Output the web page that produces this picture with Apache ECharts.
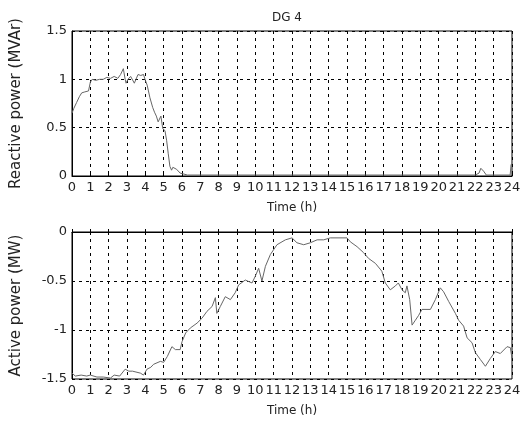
<!DOCTYPE html>
<html>
<head>
<meta charset="utf-8">
<script src="https://cdn.jsdelivr.net/npm/echarts@6/dist/echarts.min.js"></script>
<style>html,body{margin:0;padding:0;background:#fff;}#c{width:524px;height:425px;}</style>
</head>
<body>
<div id="c"></div>
<script>
var hourTicks = [0,1,2,3,4,5,6,7,8,9,10,11,12,13,14,15,16,17,18,19,20,21,22,23,24];
var reactivePower = [
 [0,0.65],[0.1,0.70],[0.25,0.76],[0.4,0.82],[0.53,0.86],[0.7,0.87],[0.9,0.88],[1.0,0.97],[1.1,1.00],
 [1.3,0.99],[1.5,1.00],[1.7,1.00],[1.9,1.02],[2.1,1.01],[2.3,1.03],[2.5,1.01],[2.65,1.05],[2.8,1.11],
 [2.9,1.00],[2.95,0.96],[3.05,1.00],[3.2,1.03],[3.4,0.96],[3.6,1.05],[3.75,1.04],[3.9,1.05],[4.0,0.99],
 [4.1,0.94],[4.25,0.81],[4.4,0.71],[4.5,0.66],[4.6,0.62],[4.7,0.56],[4.75,0.54],[4.85,0.62],[4.95,0.49],
 [5.02,0.50],[5.07,0.47],[5.16,0.37],[5.25,0.23],[5.34,0.10],[5.43,0.06],[5.5,0.09],[5.6,0.11],[5.7,0.07],
 [5.8,0.05],[5.9,0.03],[6.0,0.02],[6.3,0.01],[8,0.01],[10,0.01],[12,0.01],[14,0.01],[16,0.01],[18,0.01],
 [20,0.01],[22,0.01],[22.2,0.03],[22.3,0.08],[22.45,0.05],[22.6,0.01],[23.9,0.01],[23.95,0.12],[24,0.12]
];
var activePower = [
 [0,-1.44],[0.18,-1.47],[0.5,-1.46],[0.8,-1.47],[1.0,-1.46],[1.36,-1.48],[1.7,-1.48],[2.1,-1.49],[2.3,-1.46],
 [2.6,-1.47],[2.9,-1.40],[3.1,-1.42],[3.3,-1.42],[3.73,-1.44],[3.9,-1.46],[4.09,-1.40],[4.3,-1.38],[4.45,-1.35],
 [4.82,-1.32],[5.0,-1.33],[5.2,-1.27],[5.45,-1.17],[5.64,-1.20],[5.9,-1.20],[6.0,-1.12],[6.2,-1.03],[6.45,-0.98],
 [6.82,-0.93],[7.09,-0.88],[7.36,-0.81],[7.64,-0.76],[7.82,-0.67],[7.9,-0.83],[8.09,-0.76],[8.36,-0.66],[8.64,-0.69],
 [8.9,-0.62],[9.09,-0.54],[9.45,-0.49],[9.82,-0.52],[10.0,-0.45],[10.18,-0.37],[10.36,-0.50],[10.55,-0.35],[10.82,-0.23],
 [11.18,-0.13],[11.64,-0.08],[12.0,-0.06],[12.27,-0.11],[12.64,-0.13],[13.0,-0.11],[13.37,-0.08],[13.73,-0.08],[14.09,-0.06],
 [15.0,-0.06],[15.18,-0.10],[15.55,-0.15],[15.9,-0.21],[16.18,-0.27],[16.55,-0.32],[16.9,-0.40],[17.09,-0.52],[17.36,-0.59],
 [17.64,-0.55],[17.8,-0.52],[18.0,-0.59],[18.18,-0.62],[18.27,-0.55],[18.42,-0.69],[18.55,-0.95],[18.73,-0.90],[18.91,-0.85],
 [19.09,-0.79],[19.55,-0.79],[19.82,-0.69],[20.09,-0.57],[20.27,-0.61],[20.55,-0.71],[20.91,-0.83],[21.09,-0.90],[21.36,-0.96],
 [21.55,-1.08],[21.82,-1.13],[22.0,-1.23],[22.27,-1.30],[22.55,-1.37],[22.82,-1.29],[23.09,-1.22],[23.36,-1.24],[23.73,-1.17],
 [23.91,-1.18],[24,-1.29]
];
var topYTicks = [0,0.5,1,1.5];
var botYTicks = [-1.5,-1,-0.5,0];

var font = 'DejaVu Sans, sans-serif';
var tickTxt = {color:'#222', fontFamily:font, fontSize:13};
var nameTxt = {color:'#222', fontFamily:font, fontSize:15};
var timeTxt = {color:'#222', fontFamily:font, fontSize:12};
function xAx(gi){
  return {type:'value', gridIndex:gi, min:0, max:24, interval:1,
    name:'Time (h)', nameLocation:'middle', nameGap:26, nameTextStyle:timeTxt,
    axisLine:{show:true, lineStyle:{color:'#000'}},
    axisTick:{show:true, inside:true, length:3, lineStyle:{color:'#000'}},
    axisLabel:Object.assign({margin:5, formatter:function(v){return hourTicks.indexOf(v)>=0?String(v):'';}}, tickTxt),
    splitLine:{show:true, lineStyle:{color:'#000', type:[3,4], width:1}}};
}
function yAx(gi,mn,mx,nm,ticks){
  return {type:'value', gridIndex:gi, min:mn, max:mx, interval:0.5,
    name:nm, nameLocation:'middle', nameGap:48, nameTextStyle:nameTxt,
    axisLine:{show:true, lineStyle:{color:'#000'}},
    axisTick:{show:true, inside:true, length:3, lineStyle:{color:'#000'}},
    axisLabel:Object.assign({margin:5, formatter:function(v){return ticks.indexOf(v)>=0?String(v):'';}}, tickTxt),
    splitLine:{show:true, lineStyle:{color:'#000', type:[3,4], width:1}}};
}
var chart = echarts.init(document.getElementById('c'), null, {renderer:'canvas'});
chart.setOption({
  animation:false,
  backgroundColor:'#fff',
  title:{text:'DG 4', left:282, top:7, textAlign:'center', textStyle:{color:'#222', fontFamily:font, fontSize:12, fontWeight:'normal'}},
  grid:[
    {left:72, top:31, width:440, height:145, show:true, borderColor:'#000', borderWidth:1, containLabel:false},
    {left:72, top:232, width:440, height:147, show:true, borderColor:'#000', borderWidth:1, containLabel:false}
  ],
  xAxis:[xAx(0), xAx(1)],
  yAxis:[yAx(0,0,1.5,'Reactive power (MVAr)',topYTicks), yAx(1,-1.5,0,'Active power (MW)',botYTicks)],
  series:[
    {type:'line', xAxisIndex:0, yAxisIndex:0, data:reactivePower, showSymbol:false, lineStyle:{color:'#666', width:1}, clip:true},
    {type:'line', xAxisIndex:1, yAxisIndex:1, data:activePower, showSymbol:false, lineStyle:{color:'#666', width:1}, clip:true}
  ]
});
</script>
</body>
</html>
